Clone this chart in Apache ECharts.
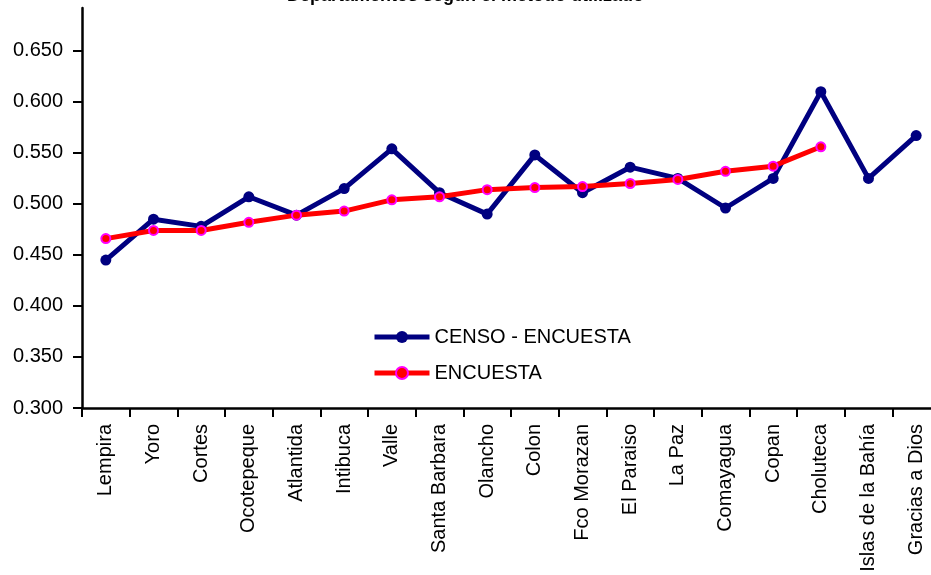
<!DOCTYPE html>
<html>
<head>
<meta charset="utf-8">
<script src="https://cdn.jsdelivr.net/npm/echarts@6/dist/echarts.min.js"></script>
<style>html,body{margin:0;padding:0;background:#fff;}#c{width:931px;height:575px;}</style>
</head>
<body>
<div id="c"></div>
<script>
const titleText = 'Departamentos según el método utilizado';
const categories = ['Lempira','Yoro','Cortes','Ocotepeque','Atlantida','Intibuca','Valle','Santa Barbara','Olancho','Colon','Fco Morazan','El Paraiso','La Paz','Comayagua','Copan','Choluteca','Islas de la Bahía','Gracias a Dios'];
const censoEncuesta = [0.445,0.485,0.478,0.507,0.489,0.515,0.554,0.511,0.490,0.548,0.511,0.536,0.525,0.496,0.525,0.610,0.525,0.567];
const encuesta = [0.466,0.474,0.474,0.482,0.489,0.493,0.504,0.507,0.514,0.516,0.517,0.520,0.524,0.532,0.537,0.556,null,null];
const yTicks = [0.30,0.35,0.40,0.45,0.50,0.55,0.60,0.65];

const FONT = "'Liberation Sans', Arial, sans-serif";
const chart = echarts.init(document.getElementById('c'), null, {renderer:'canvas'});
chart.setOption({
  animation: false,
  backgroundColor: '#ffffff',
  title: {
    text: titleText,
    left: 287, top: -13,
    padding: 0,
    textStyle: {fontFamily: FONT, fontSize: 18, fontWeight: 'bold', color: '#000'}
  },
  legend: {
    orient: 'vertical',
    left: 372, top: 327,
    itemWidth: 55, itemHeight: 15, itemGap: 16,
    padding: 0,
    lineStyle: {width: 5},
    textStyle: {fontFamily: FONT, fontSize: 20, color: '#000'},
    data: ['CENSO - ENCUESTA','ENCUESTA']
  },
  grid: {left: 82, width: 858, top: 8, bottom: 167, containLabel: false, outerBoundsMode: 'none'},
  xAxis: {
    type: 'category',
    data: categories,
    boundaryGap: true,
    axisLine: {lineStyle: {color: '#000', width: 2.5}},
    axisTick: {show: true, interval: 0, length: 9, lineStyle: {color: '#000', width: 2}},
    axisLabel: {interval: 0, rotate: 90, margin: 16, fontFamily: FONT, fontSize: 20, color: '#000'},
    splitLine: {show: false}
  },
  yAxis: {
    type: 'value',
    min: 0.3, max: 0.692, interval: 0.05,
    axisLine: {show: true, lineStyle: {color: '#000', width: 2.5}},
    axisTick: {show: true, length: 9, lineStyle: {color: '#000', width: 2}, customValues: yTicks},
    axisLabel: {margin: 19, fontFamily: FONT, fontSize: 20, color: '#000',
      customValues: yTicks, formatter: v => v.toFixed(3)},
    splitLine: {show: false}
  },
  series: [
    {
      name: 'CENSO - ENCUESTA', type: 'line', data: censoEncuesta,
      symbol: 'circle', symbolSize: 11,
      lineStyle: {color: '#000080', width: 5},
      itemStyle: {color: '#000080'},
      z: 2
    },
    {
      name: 'ENCUESTA', type: 'line', data: encuesta,
      symbol: 'circle', symbolSize: 9,
      lineStyle: {color: '#ff0000', width: 5},
      itemStyle: {color: '#ff0000', borderColor: '#ff00ff', borderWidth: 2},
      z: 3
    }
  ]
});
</script>
</body>
</html>
